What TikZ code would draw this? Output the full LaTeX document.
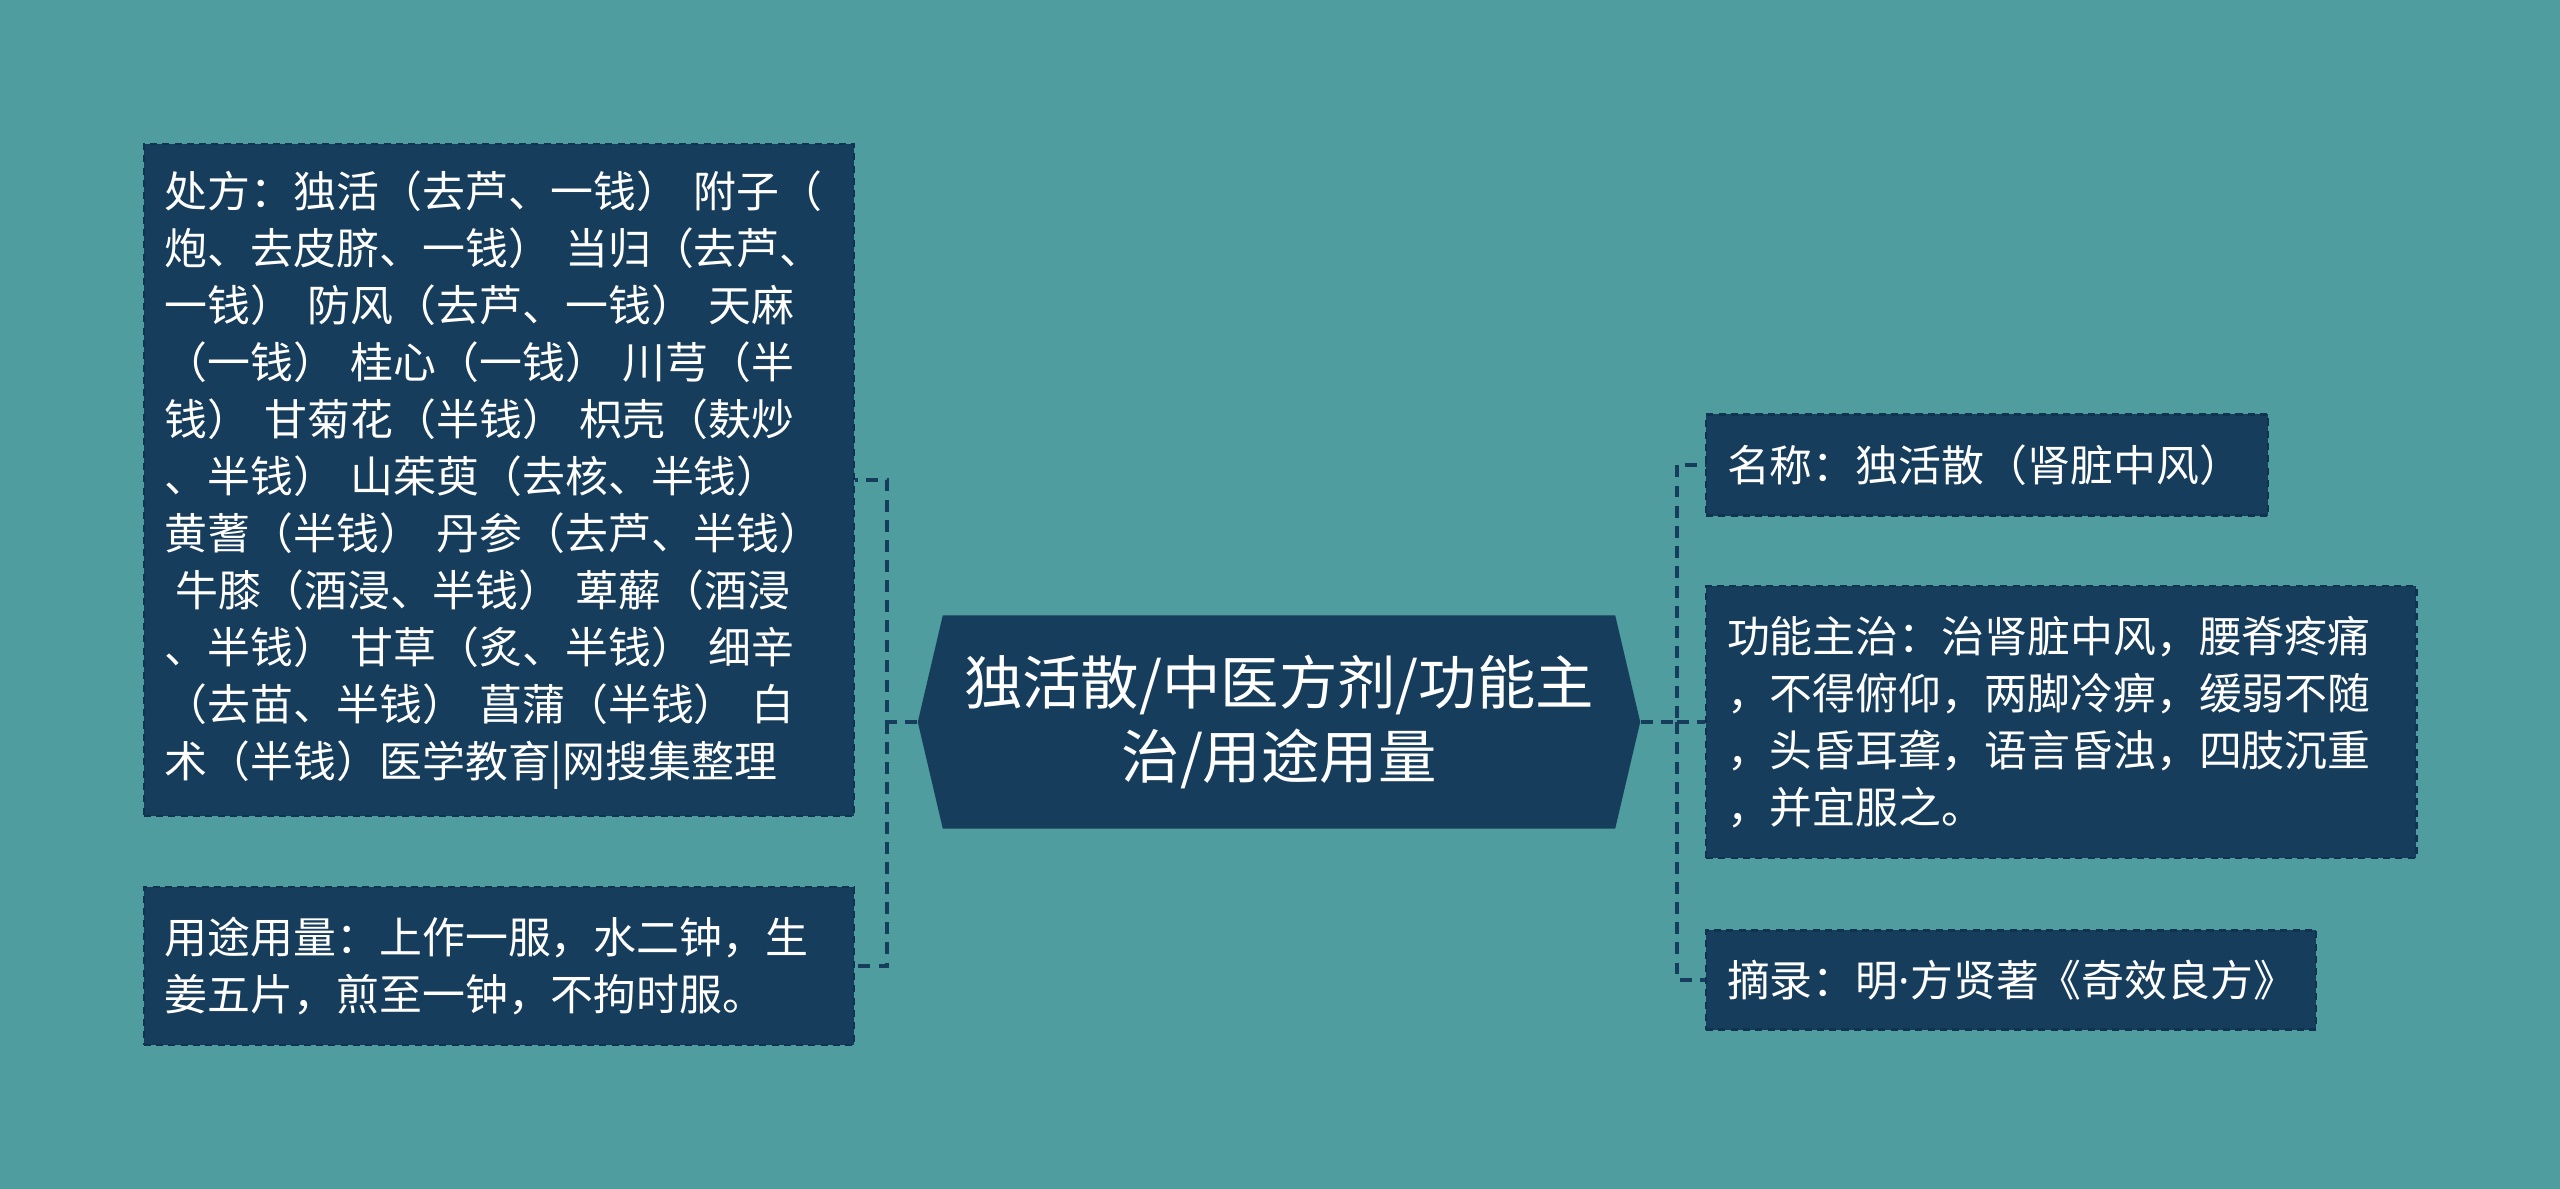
\documentclass[tikz,border=0pt]{standalone}
\usepackage{fontspec}
\setmainfont{Noto Sans CJK SC}
\newfontfamily\dotfont{Noto Sans}
\usetikzlibrary{shapes.symbols}
\definecolor{bgteal}{HTML}{4F9D9E}
\definecolor{navy}{HTML}{173D5C}
\definecolor{edgenavy}{HTML}{10344F}

\begin{document}
\begin{tikzpicture}[x=0.01cm,y=-0.01cm,
  leaf/.style={rectangle,fill=navy,draw=edgenavy,line width=0.6pt,dash pattern=on 2pt off 1.5pt,
    text=white,align=left,inner xsep=0.21cm,inner ysep=0.2cm,font=\fontsize{12.2pt}{16.2pt}\selectfont},
  hub/.style={signal,signal to=west and east,signal pointer angle=153.6,fill=navy,text=white,
    align=center,minimum width=7.22cm,minimum height=2.13cm,font=\fontsize{16.6pt}{20.9pt}\selectfont},
  link/.style={draw=navy,line width=1.1pt,dash pattern=on 3.4pt off 2.3pt}]
\fill[bgteal] (0,0) rectangle (2560,1189);
\node[hub] (hub) at (1279,722) {独活散/中医方剂/功能主\\治/用途用量};
\node[leaf,text width=6.68cm,minimum height=6.72cm] (presc) at (499,480) {处方：独活（去芦、一钱） 附子（\\炮、去皮脐、一钱） 当归（去芦、\\一钱） 防风（去芦、一钱） 天麻\\（一钱） 桂心（一钱） 川芎（半\\钱） 甘菊花（半钱） 枳壳（麸炒\\、半钱） 山茱萸（去核、半钱）\\黄蓍（半钱） 丹参（去芦、半钱）\\\hspace*{0.25em}牛膝（酒浸、半钱） 萆薢（酒浸\\、半钱） 甘草（炙、半钱） 细辛\\（去苗、半钱） 菖蒲（半钱） 白\\术（半钱）医学教育|网搜集整理};
\node[leaf,text width=6.68cm,minimum height=1.58cm] (dose) at (499,966) {用途用量：上作一服，水二钟，生\\姜五片，煎至一钟，不拘时服。};
\node[leaf,text width=5.2cm,minimum height=1.01cm,anchor=west] (name) at (1705,465) {名称：独活散（肾脏中风）};
\node[leaf,text width=6.68cm,minimum height=2.71cm,anchor=west] (func) at (1705,722) {功能主治：治肾脏中风，腰脊疼痛\\，不得俯仰，两脚冷痹，缓弱不随\\，头昏耳聋，语言昏浊，四肢沉重\\，并宜服之。};
\node[leaf,text width=5.68cm,minimum height=0.99cm,anchor=west] (src) at (1705,980) {摘录：明{\dotfont ·}方贤著《奇效良方》};
\coordinate (lj) at (887,722);
\coordinate (rj) at (1677,722);
\draw[link] (hub.west) -- (lj) |- (presc.east);
\draw[link] (lj) |- (dose.east);
\draw[link] (hub.east) -- (rj) |- (name.west);
\draw[link] (rj) -- (func.west);
\draw[link] (rj) |- (src.west);
\end{tikzpicture}
\end{document}
